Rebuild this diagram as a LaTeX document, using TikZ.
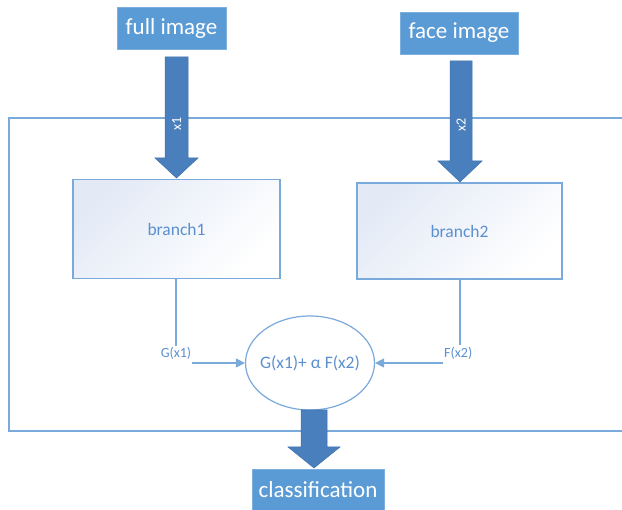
\documentclass[tikz,border=0pt]{standalone}
\usepackage{fontspec}
\setmainfont{Carlito}
\usetikzlibrary{shapes.geometric,arrows.meta}
\definecolor{boxblue}{HTML}{5B9BD5}
\definecolor{arrblue}{HTML}{4A7FBD}
\definecolor{arredge}{HTML}{3F70AA}
\definecolor{lineblue}{HTML}{7AA9DC}
\definecolor{textblue}{HTML}{5B8FCF}
\definecolor{shade}{HTML}{E3EAF6}
\tikzset{
  inbox/.style={fill=boxblue, draw=boxblue!80!white, text=white, font=\fontsize{23}{26}\selectfont, inner sep=0pt},
  branchbox/.style={draw=lineblue, line width=1.2pt, top color=shade, bottom color=white, shading angle=45, text=textblue, font=\fontsize{17.5}{20}\selectfont, inner sep=0pt},
  fatarrow/.style={fill=arrblue, draw=arredge, line width=0.5pt},
  thin/.style={draw=lineblue, line width=1.1pt},
  lbl/.style={text=textblue, font=\fontsize{14}{16}\selectfont, inner sep=1pt},
  tip/.style={-{Triangle[length=9pt,width=9pt]}, lineblue, line width=1.1pt}
}
\begin{document}
\begin{tikzpicture}[x=1pt,y=-1pt]
\useasboundingbox (0,0) rectangle (622,510);
% outer frame (open on the right)
\draw[thin, line width=1.4pt] (622,118) -- (9,118) -- (9,431) -- (622,431);
% input boxes
\node[inbox, minimum width=109pt, minimum height=42pt] (full) at (171.5,28) {full image};
\node[inbox, minimum width=118pt, minimum height=42pt] (face) at (459,33) {face image};
% branch boxes
\node[branchbox, minimum width=207pt, minimum height=99pt] (b1) at (176.5,229) {branch1};
\node[branchbox, minimum width=205pt, minimum height=96pt] (b2) at (459.5,231) {branch2};
% fat arrows
\fill[fatarrow] (165,57) -- (188,57) -- (188,158) -- (198,158) -- (176.5,178) -- (155,158) -- (165,158) -- cycle;
\node[text=white, rotate=90, font=\fontsize{14}{16}\selectfont] (x1) at (176.5,124) {x1};
\fill[fatarrow] (450,61) -- (472,61) -- (472,161) -- (482,161) -- (460,182) -- (438,161) -- (450,161) -- cycle;
\node[text=white, rotate=90, font=\fontsize{14}{16}\selectfont] (x2) at (461,125) {x2};
% ellipse
\node[ellipse, draw=lineblue, line width=1.2pt, fill=white, minimum width=129pt, minimum height=94pt, text=textblue, font=\fontsize{17.5}{20}\selectfont, inner sep=-6pt] (sum) at (310,363) {G(x1)+ α F(x2)};
% labels
\node[lbl] (g) at (176,353) {G(x1)};
\node[lbl, anchor=west] (f) at (443,353) {F(x2)};
\draw[thin] (b1.south -| g) -- (g.north);
\draw[thin] (460,279) -- (460,345);
\draw[tip] (g.east |- 0,363) -- (sum.west);
\draw[tip] (f.west |- 0,363) -- (sum.east);
% output arrow
\fill[fatarrow] (301,410) -- (327,410) -- (327,447) -- (340,447) -- (314,468) -- (288,447) -- (301,447) -- cycle;
\node[inbox, minimum width=132pt, minimum height=41pt] (cls) at (318,490) {classification};
\end{tikzpicture}
\end{document}
